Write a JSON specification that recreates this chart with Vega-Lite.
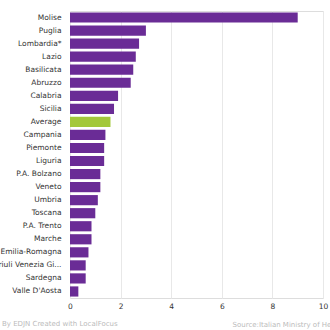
{
  "$schema": "https://vega.github.io/schema/vega-lite/v6.json",
  "autosize": {"type": "none"},
  "width": 253,
  "height": 287,
  "padding": {"left": 70, "top": 11, "right": 7, "bottom": 32},
  "background": "white",
  "title": {"text": "By EDJN  Created with LocalFocus", "orient": "bottom", "anchor": "start", "frame": "group", "dx": -68, "dy": -7, "offset": 0, "fontSize": 7, "fontWeight": "normal", "color": "#bbbbbb", "font": "DejaVu Sans", "baseline": "top"},
  "data": {"values": [
    {"region": "Molise", "value": 9.0, "type": "region"},
    {"region": "Puglia", "value": 3.0, "type": "region"},
    {"region": "Lombardia*", "value": 2.73, "type": "region"},
    {"region": "Lazio", "value": 2.6, "type": "region"},
    {"region": "Basilicata", "value": 2.5, "type": "region"},
    {"region": "Abruzzo", "value": 2.4, "type": "region"},
    {"region": "Calabria", "value": 1.9, "type": "region"},
    {"region": "Sicilia", "value": 1.74, "type": "region"},
    {"region": "Average", "value": 1.6, "type": "average"},
    {"region": "Campania", "value": 1.4, "type": "region"},
    {"region": "Piemonte", "value": 1.35, "type": "region"},
    {"region": "Liguria", "value": 1.35, "type": "region"},
    {"region": "P.A. Bolzano", "value": 1.2, "type": "region"},
    {"region": "Veneto", "value": 1.2, "type": "region"},
    {"region": "Umbria", "value": 1.1, "type": "region"},
    {"region": "Toscana", "value": 1.0, "type": "region"},
    {"region": "P.A. Trento", "value": 0.85, "type": "region"},
    {"region": "Marche", "value": 0.85, "type": "region"},
    {"region": "Emilia-Romagna", "value": 0.73, "type": "region"},
    {"region": "Friuli Venezia Gi...", "value": 0.62, "type": "region"},
    {"region": "Sardegna", "value": 0.62, "type": "region"},
    {"region": "Valle D'Aosta", "value": 0.33, "type": "region"}
  ]},
  "mark": {"type": "bar"},
  "encoding": {
    "y": {"field": "region", "type": "nominal", "sort": null,
      "scale": {"paddingInner": 0.22, "paddingOuter": 0.11},
      "axis": {"title": null, "domain": false, "ticks": false, "labelPadding": 9, "labelFont": "DejaVu Sans", "labelFontSize": 7.5, "labelColor": "#333333", "labelLimit": 200}},
    "x": {"field": "value", "type": "quantitative",
      "scale": {"domain": [0, 10], "nice": false},
      "axis": {"values": [0, 2, 4, 6, 8, 10], "domain": false, "ticks": false, "labelPadding": 4, "labelFont": "DejaVu Sans", "labelFontSize": 7.5, "labelColor": "#333333", "gridColor": "#e8e8e8", "labelFlush": false,
        "title": "Source:Italian Ministry of Health", "titleFont": "DejaVu Sans", "titleFontSize": 7, "titleFontWeight": "normal", "titleColor": "#bbbbbb", "titleAlign": "left", "titleAnchor": "start", "titleX": 162, "titleY": 28, "titleBaseline": "alphabetic"}},
    "color": {"field": "type", "type": "nominal", "scale": {"domain": ["region", "average"], "range": ["#6a2c96", "#a3c83a"]}, "legend": null}
  }
}
